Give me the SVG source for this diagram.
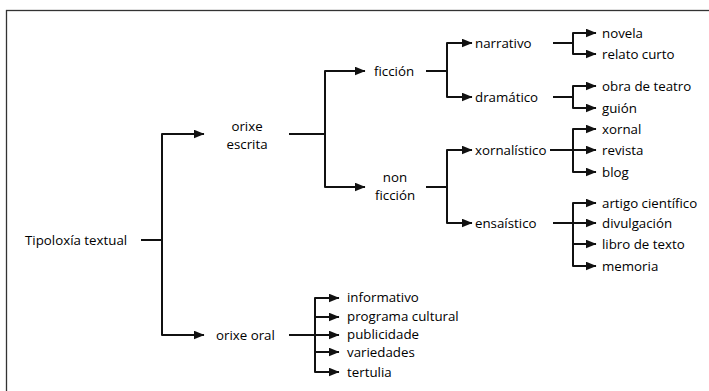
<svg xmlns="http://www.w3.org/2000/svg" width="709" height="391" viewBox="0 0 709 391">
  <style>
    .lbl { font-family: "Open Sans", "Noto Sans", "DejaVu Sans", sans-serif; font-size: 13.3px; fill: #000; dominant-baseline: central; }
    .mid { text-anchor: middle; }
    .wire { fill: none; stroke: #111; stroke-width: 2; stroke-linejoin: round; }
    .arr { fill: none; stroke: #111; stroke-width: 2; stroke-linejoin: round; marker-end: url(#tip); }
  </style>
  <defs>
    <marker id="tip" viewBox="0 0 11 9" refX="10.5" refY="4.5" markerWidth="11" markerHeight="9" markerUnits="userSpaceOnUse" orient="auto">
      <path d="M0,0 L11,4.5 L0,9 Z" fill="#111"/>
    </marker>
  </defs>

  <rect x="6.5" y="10.5" width="720" height="400" fill="#fff" stroke="#333" stroke-width="1.3"/>

  <g id="connectors">
    <!-- root -->
    <path class="wire" d="M141,240 H162"/>
    <path class="arr" d="M162,240 V134 H204"/>
    <path class="arr" d="M162,240 V335 H204"/>
    <!-- orixe escrita -->
    <path class="wire" d="M289,134 H325"/>
    <path class="arr" d="M325,134 V71 H365"/>
    <path class="arr" d="M325,134 V187 H365"/>
    <!-- ficcion -->
    <path class="wire" d="M426,71 H447"/>
    <path class="arr" d="M447,71 V43 H472"/>
    <path class="arr" d="M447,71 V97 H472"/>
    <!-- non ficcion -->
    <path class="wire" d="M426,187 H447"/>
    <path class="arr" d="M447,187 V150 H472"/>
    <path class="arr" d="M447,187 V223 H472"/>
    <!-- narrativo -->
    <path class="wire" d="M553,43 H573"/>
    <path class="arr" d="M573,43 V33 H596"/>
    <path class="arr" d="M573,43 V54 H596"/>
    <!-- dramatico -->
    <path class="wire" d="M553,97 H573"/>
    <path class="arr" d="M573,97 V86 H596"/>
    <path class="arr" d="M573,97 V108 H596"/>
    <!-- xornalistico -->
    <path class="wire" d="M550,150 H573"/>
    <path class="arr" d="M573,150 V129 H596"/>
    <path class="arr" d="M573,150 H596"/>
    <path class="arr" d="M573,150 V172 H596"/>
    <!-- ensaistico -->
    <path class="wire" d="M553,223 H573"/>
    <path class="arr" d="M573,223 V203 H596"/>
    <path class="arr" d="M573,223 H596"/>
    <path class="arr" d="M573,223 V244 H596"/>
    <path class="arr" d="M573,223 V266 H596"/>
    <!-- orixe oral -->
    <path class="wire" d="M289,335 H315"/>
    <path class="arr" d="M315,335 V298 H339"/>
    <path class="arr" d="M315,335 V317 H339"/>
    <path class="arr" d="M315,335 H339"/>
    <path class="arr" d="M315,335 V352 H339"/>
    <path class="arr" d="M315,335 V372 H339"/>
  </g>

  <g id="n-root"><text class="lbl" x="25" y="240">Tipoloxía textual</text></g>
  <g id="n-escrita">
    <text class="lbl mid" x="247" y="126">orixe</text>
    <text class="lbl mid" x="247" y="144">escrita</text>
  </g>
  <g id="n-oral"><text class="lbl" x="216" y="335">orixe oral</text></g>
  <g id="n-ficcion"><text class="lbl" x="374" y="71">ficción</text></g>
  <g id="n-nonficcion">
    <text class="lbl mid" x="395" y="177">non</text>
    <text class="lbl mid" x="395" y="195">ficción</text>
  </g>
  <g id="n-narrativo"><text class="lbl" x="475" y="43">narrativo</text></g>
  <g id="n-dramatico"><text class="lbl" x="475" y="97">dramático</text></g>
  <g id="n-xornalistico"><text class="lbl" x="475" y="150">xornalístico</text></g>
  <g id="n-ensaistico"><text class="lbl" x="475" y="223">ensaístico</text></g>

  <g id="n-novela"><text class="lbl" x="602" y="33">novela</text></g>
  <g id="n-relato"><text class="lbl" x="602" y="54">relato curto</text></g>
  <g id="n-obra"><text class="lbl" x="602" y="86">obra de teatro</text></g>
  <g id="n-guion"><text class="lbl" x="602" y="108">guión</text></g>
  <g id="n-xornal"><text class="lbl" x="602" y="129">xornal</text></g>
  <g id="n-revista"><text class="lbl" x="602" y="150">revista</text></g>
  <g id="n-blog"><text class="lbl" x="602" y="172">blog</text></g>
  <g id="n-artigo"><text class="lbl" x="602" y="203">artigo científico</text></g>
  <g id="n-divulgacion"><text class="lbl" x="602" y="223">divulgación</text></g>
  <g id="n-libro"><text class="lbl" x="602" y="244">libro de texto</text></g>
  <g id="n-memoria"><text class="lbl" x="602" y="266">memoria</text></g>

  <g id="n-informativo"><text class="lbl" x="347" y="297">informativo</text></g>
  <g id="n-programa"><text class="lbl" x="347" y="316">programa cultural</text></g>
  <g id="n-publicidade"><text class="lbl" x="347" y="334">publicidade</text></g>
  <g id="n-variedades"><text class="lbl" x="347" y="352">variedades</text></g>
  <g id="n-tertulia"><text class="lbl" x="347" y="372">tertulia</text></g>
</svg>
